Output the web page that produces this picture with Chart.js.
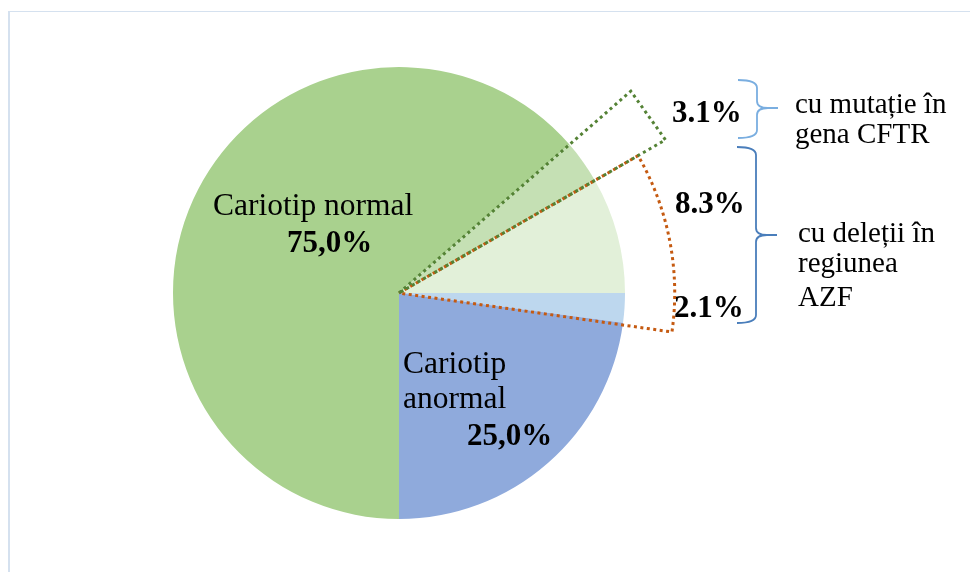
<!DOCTYPE html>
<html>
<head>
<meta charset="utf-8">
<script src="https://cdn.jsdelivr.net/npm/chart.js@4"></script>
<style>
    body { margin: 0; background: #fff; }
    #wrap { position: relative; width: 970px; height: 572px; }
    #frame { position: absolute; left: 8px; top: 11px; right: 0; bottom: 0; border-top: 1px solid #d5e1ef; border-left: 2px solid #d5e1ef; }
    canvas { position: absolute; left: 0; top: 0; }
</style>
</head>
<body>
<div id="wrap">
    <div id="frame"></div>
    <canvas id="chart" width="970" height="572"></canvas>
</div>
<script>
    // slices clockwise starting at 3 o'clock
    let sliceLabels = ['AZF (anormal)', 'Cariotip anormal', 'Cariotip normal', 'CFTR', 'AZF (normal)'];
    let sliceValues = [2.1, 22.9, 63.6, 3.1, 8.3];
    let sliceColors = ['#bdd7ee', '#8faadc', '#a9d18e', '#c5e0b4', '#e2f0d9'];

    // text shown on the chart
    let mainLabels = ['Cariotip normal', 'Cariotip anormal'];
    let mainValues = ['75,0%', '25,0%'];
    let detailValues = ['3.1%', '8.3%', '2.1%'];
    let cftrText = ['cu mutație în', 'gena CFTR'];
    let azfText = ['cu deleții în', 'regiunea', 'AZF'];

    const serif = '"Liberation Serif", "Times New Roman", serif';

    function brace(ctx, x0, yTop, yBot, yTip, color) {
        let xs = x0 + 19;
        let xt = x0 + 40;
        ctx.save();
        ctx.strokeStyle = color;
        ctx.lineWidth = 1.8;
        ctx.beginPath();
        ctx.moveTo(x0, yTop);
        ctx.quadraticCurveTo(xs, yTop, xs, yTop + 8);
        ctx.lineTo(xs, yTip - 7);
        ctx.quadraticCurveTo(xs, yTip, xt - 10, yTip);
        ctx.lineTo(xt, yTip);
        ctx.moveTo(xt - 10, yTip);
        ctx.quadraticCurveTo(xs, yTip, xs, yTip + 7);
        ctx.lineTo(xs, yBot - 8);
        ctx.quadraticCurveTo(xs, yBot, x0, yBot);
        ctx.stroke();
        ctx.restore();
    }

    const overlay = {
        id: 'overlay',
        afterDatasetsDraw(chart) {
            let ctx = chart.ctx;
            let arcs = chart.getDatasetMeta(0).data;
            let cx = arcs[0].x, cy = arcs[0].y, r = arcs[0].outerRadius;

            // orange dotted wedge round the AZF slices
            let a0 = arcs[4].startAngle;
            let a1 = arcs[0].endAngle + Math.PI * 2 + 0.01;
            let ro = r * 1.22;
            ctx.save();
            ctx.setLineDash([3, 3.5]);
            ctx.lineWidth = 3;
            ctx.strokeStyle = '#c55a11';
            ctx.beginPath();
            ctx.moveTo(cx, cy);
            ctx.lineTo(cx + ro * Math.cos(a0), cy + ro * Math.sin(a0));
            ctx.arc(cx, cy, ro, a0, a1);
            ctx.lineTo(cx, cy);
            ctx.stroke();

            // green dotted wedge round the CFTR slice
            let g0 = arcs[3].startAngle;
            let g1 = arcs[3].endAngle;
            let rg = r * 1.36;
            ctx.strokeStyle = '#548235';
            ctx.beginPath();
            ctx.moveTo(cx, cy);
            ctx.lineTo(cx + rg * Math.cos(g0), cy + rg * Math.sin(g0));
            ctx.lineTo(cx + rg * Math.cos(g1), cy + rg * Math.sin(g1));
            ctx.lineTo(cx, cy);
            ctx.stroke();
            ctx.restore();

            // texts
            ctx.save();
            ctx.fillStyle = '#000';
            ctx.textBaseline = 'alphabetic';
            ctx.textAlign = 'left';
            ctx.font = '31.5px ' + serif;
            ctx.fillText(mainLabels[0], 213, 215);
            ctx.fillText('Cariotip', 403, 373);
            ctx.fillText('anormal', 403, 408);
            ctx.font = 'bold 31px ' + serif;
            ctx.fillText(mainValues[0], 287, 252);
            ctx.fillText(mainValues[1], 467, 445);
            ctx.fillText(detailValues[0], 672, 122);
            ctx.fillText(detailValues[1], 675, 213);
            ctx.fillText(detailValues[2], 674, 317);

            ctx.font = '29px ' + serif;
            ctx.fillText(cftrText[0], 795, 113);
            ctx.fillText(cftrText[1], 795, 143);
            ctx.fillText(azfText[0], 798, 242);
            ctx.fillText(azfText[1], 798, 272);
            ctx.fillText(azfText[2], 798, 306);
            ctx.restore();

            brace(ctx, 738, 80, 138, 108, '#7aaee0');
            brace(ctx, 737, 147, 323, 235, '#4a7ebb');
        }
    };

    let ctx = document.getElementById('chart').getContext('2d');
    let myChart = new Chart(ctx, {
        type: 'pie',
        data: {
            labels: sliceLabels,
            datasets: [{
                data: sliceValues,
                backgroundColor: sliceColors,
                borderWidth: 0
            }]
        },
        options: {
            responsive: false,
            animation: false,
            rotation: 90,
            layout: { padding: { left: 173, right: 345, top: 67, bottom: 53 } },
            plugins: {
                legend: { display: false },
                tooltip: { enabled: false }
            }
        },
        plugins: [overlay]
    });
</script>
</body>
</html>
